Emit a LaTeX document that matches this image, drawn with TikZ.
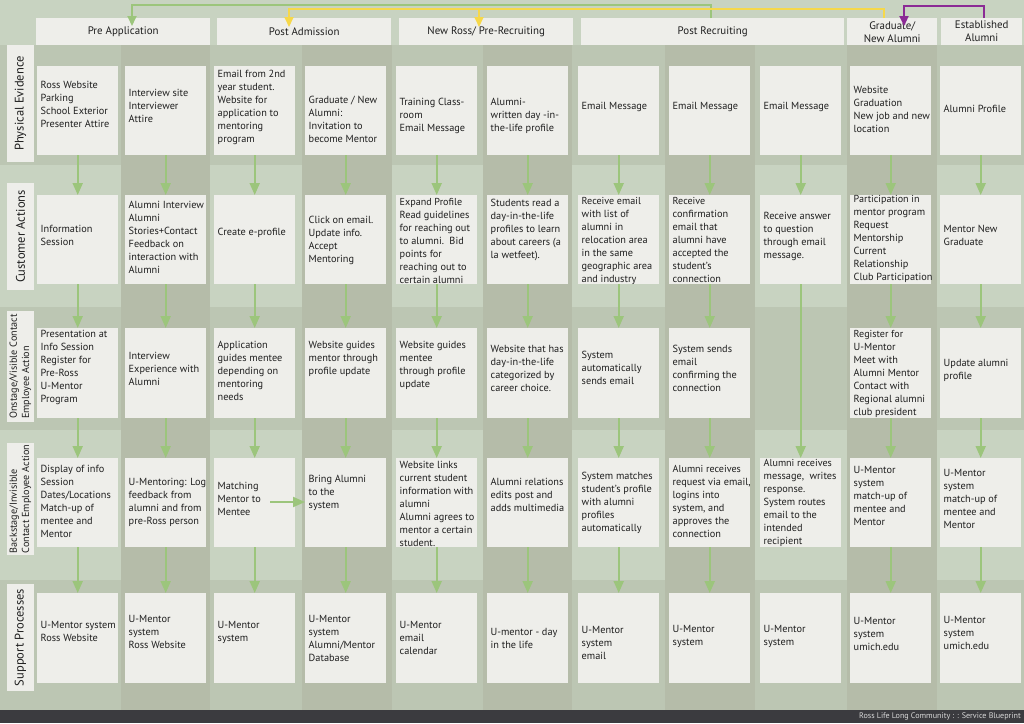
\documentclass[tikz,border=0pt]{standalone}
\usepackage{fontspec}
\setmainfont{PT Sans}
\usetikzlibrary{arrows.meta}
\definecolor{bgl}{HTML}{C8D3C1}
\definecolor{bgm}{HTML}{BCC6B3}
\definecolor{bgd}{HTML}{B5BCA9}
\definecolor{boxc}{HTML}{EEEEEA}
\definecolor{txt}{HTML}{1F1F1F}
\definecolor{agreen}{HTML}{9CC57C}
\definecolor{ayellow}{HTML}{F6D84A}
\definecolor{apurple}{HTML}{8B2A95}
\definecolor{foot}{HTML}{3B3B3F}
% #1 box height, #2 name, #3 left x, #4 top y, #5 text centre y, #6 text
\newcommand\bpcard[6][89]{%
  \node[cardbg, minimum height=#1pt] (#2) at (#3,#4) {};
  \node[cardtxt] (#2t) at (#3+3.5,#5) {#6};}
\newcommand\tightlines[1]{\fontsize{10.1}{#1}\selectfont}
\begin{document}
\begin{tikzpicture}[x=1pt,y=-1pt,
  cardbg/.style={anchor=north west, fill=boxc, minimum width=81pt, inner sep=0pt},
  cardtxt/.style={anchor=west, inner sep=0pt, align=left,
    font=\fontsize{10.3}{13}\selectfont, text=txt},
  hdr/.style={anchor=north west, fill=boxc, minimum height=27pt, inner sep=0pt,
    align=center, font=\fontsize{10.9}{13}\selectfont, text=txt},
  lab/.style={fill=boxc, rotate=90, minimum height=27pt, inner sep=0pt,
    font=\fontsize{12.5}{14}\selectfont, text=txt},
  labs/.style={fill=boxc, rotate=90, minimum height=27pt, inner sep=0pt, align=left,
    font=\fontsize{10.2}{12.3}\selectfont, text=txt},
  garrow/.style={draw=agreen, line width=2pt, -{Triangle[width=10pt,length=12pt]}},
  gconn/.style={draw=agreen, line width=2pt, -{Triangle[width=9pt,length=10pt]}},
  yconn/.style={draw=ayellow, line width=2pt, -{Triangle[width=9pt,length=10pt]}},
  pconn/.style={draw=apurple, line width=2.2pt, -{Triangle[width=9pt,length=10pt]}}
]
% ---------- background ----------
\fill[bgl] (0,0) rectangle (1024,723);
\fill[bgm] (0,45) rectangle (1024,165);
\fill[bgm] (0,307) rectangle (1024,430);
\fill[bgm] (0,580) rectangle (1024,710);
\foreach \a/\b in {121/210, 302/392, 483/572, 665/755, 847/937}
  \fill[bgd] (\a,45) rectangle (\b,710);
\fill[foot] (0,710) rectangle (1024,723);
\node[anchor=east, text=white!85!black, font=\fontsize{8.1}{9}\selectfont, inner sep=0pt]
  (foottxt) at (1021,716.8) {Ross Life Long Community : : Service Blueprint};
\useasboundingbox (0,0) rectangle (1024,723);

% ---------- headers ----------
\node[hdr, minimum width=174pt] (hPA) at (36,18) {Pre Application};
\node[hdr, minimum width=174pt] (hPD) at (217,18) {Post Admission};
\node[hdr, minimum width=174pt] (hNR) at (399,18) {New Ross/ Pre-Recruiting};
\node[hdr, minimum width=263pt] (hPR) at (581,18) {Post Recruiting};
\node[hdr, minimum width=90pt] (hGA) at (847,18) {Graduate/\\New Alumni};
\node[hdr, minimum width=81pt] (hEA) at (941,18) {Established\\Alumni};

% ---------- lane labels ----------
\node[lab, minimum width=117pt] (lPE) at (20.5,103.5) {Physical Evidence};
\node[lab, minimum width=107pt] (lCA) at (20.5,236.5) {Customer Actions};
\node[labs, minimum width=111pt] (lON) at (20.5,366.5) {Onstage/Visible Contact\\Employee Action};
\node[labs, minimum width=112pt] (lBS) at (20.5,499) {Backstage/Invisible\\Contact Employee Action};
\node[lab, minimum width=107pt] (lSP) at (20.5,637.5) {Support Processes};

% ---------- row 1: physical evidence ----------
\bpcard{r1c1}{37}{66}{104}{Ross Website\\Parking\\School Exterior\\Presenter Attire}
\bpcard{r1c2}{125}{66}{106}{Interview site\\Interviewer\\Attire}
\bpcard{r1c3}{214}{66}{107.5}{Email from 2nd\\year student.\\Website for\\application to\\mentoring\\program}
\bpcard{r1c4}{305}{66}{119}{Graduate / New\\Alumni:\\Invitation to\\become Mentor}
\bpcard{r1c5}{396}{66}{116}{Training Class-\\room\\Email Message}
\bpcard{r1c6}{487}{66}{116}{Alumni-\\written day -in-\\the-life profile}
\bpcard{r1c7}{578}{66}{107}{Email Message}
\bpcard{r1c8}{669}{66}{107}{Email Message}
\bpcard{r1c9}{760}{66}{107}{Email Message}
\bpcard{r1c10}{850}{66}{109.5}{Website\\Graduation\\New job and new\\location}
\bpcard{r1c11}{940}{66}{109}{Alumni Profile}

% ---------- row 2: customer actions ----------
\bpcard{r2c1}{37}{195}{235.5}{Information\\Session}
\bpcard{r2c2}{125}{195}{237}{Alumni Interview\\Alumni\\Stories+Contact\\Feedback on\\interaction with\\Alumni}
\bpcard{r2c3}{214}{195}{233}{Create e-profile}
\bpcard{r2c4}{305}{195}{240.5}{Click on email.\\Update info.\\Accept\\Mentoring}
\bpcard{r2c5}{396}{195}{240.5}{\tightlines{12.8}Expand Profile\\Read guidelines\\for reaching out\\to alumni.\ \ Bid\\points for\\reaching out to\\certain alumni}
\bpcard{r2c6}{487}{195}{230}{Students read a\\day-in-the-life\\profiles to learn\\about careers (a\\la wetfeet).}
\bpcard{r2c7}{578}{195}{241}{\tightlines{13}Receive email\\with list of\\alumni in\\relocation area\\in the same\\geographic area\\and industry}
\bpcard{r2c8}{669}{195}{239.5}{\tightlines{12.8}Receive\\confirmation\\email that\\alumni have\\accepted the\\student's\\connection}
\bpcard{r2c9}{760}{195}{236}{Receive answer\\to question\\through email\\message.}
\bpcard{r2c10}{850}{195}{239}{\tightlines{12.3}Participation in\\mentor program\\Request\\Mentorship\\Current\\Relationship\\Club Participation}
\bpcard{r2c11}{940}{195}{235}{Mentor New\\Graduate}

% ---------- row 3: onstage ----------
\bpcard[90]{r3c1}{37}{328}{367}{Presentation at\\Info Session\\Register for\\Pre-Ross\\U-Mentor\\Program}
\bpcard[90]{r3c2}{125}{328}{369}{Interview\\Experience with\\Alumni}
\bpcard[90]{r3c3}{214}{328}{371}{Application\\guides mentee\\depending on\\mentoring\\needs}
\bpcard[90]{r3c4}{305}{328}{359}{Website guides\\mentor through\\profile update}
\bpcard[90]{r3c5}{396}{328}{365.5}{Website guides\\mentee\\through profile\\update}
\bpcard[90]{r3c6}{487}{328}{368}{Website that has\\day-in-the-life\\categorized by\\career choice.}
\bpcard[90]{r3c7}{578}{328}{368}{System\\automatically\\sends email}
\bpcard[90]{r3c8}{669}{328}{368}{System sends\\email\\confirming the\\connection}
\bpcard[90]{r3c10}{850}{328}{373.5}{\tightlines{12.9}Register for\\U-Mentor\\Meet with\\Alumni Mentor\\Contact with\\Regional alumni\\club president}
\bpcard[90]{r3c11}{940}{328}{370}{Update alumni\\profile}

% ---------- row 4: backstage ----------
\bpcard{r4c1}{37}{458}{501}{Display of info\\Session\\Dates/Locations\\Match-up of\\mentee and\\Mentor}
\bpcard{r4c2}{125}{458}{502}{U-Mentoring: Log\\feedback from\\alumni and from\\pre-Ross person}
\bpcard{r4c3}{214}{458}{499}{Matching\\Mentor to\\Mentee}
\bpcard{r4c4}{305}{458}{493}{Bring Alumni\\to the\\system}
\bpcard{r4c5}{396}{458}{504}{Website links\\current student\\information with\\alumni\\Alumni agrees to\\mentor a certain\\student.}
\bpcard{r4c6}{487}{458}{495}{Alumni relations\\edits post and\\adds multimedia}
\bpcard{r4c7}{578}{458}{502.5}{System matches\\student's profile\\with alumni\\profiles\\automatically}
\bpcard{r4c8}{669}{458}{501}{\tightlines{13}Alumni receives\\request via email,\\logins into\\system, and\\approves the\\connection}
\bpcard{r4c9}{760}{458}{503}{\tightlines{12.8}Alumni receives\\message,\ \ writes\\response.\\System routes\\email to the\\intended\\recipient}
\bpcard{r4c10}{850}{458}{496}{U-Mentor\\system\\match-up of\\mentee and\\Mentor}
\bpcard{r4c11}{940}{458}{498.5}{U-Mentor\\system\\match-up of\\mentee and\\Mentor}

% ---------- row 5: support ----------
\bpcard[90]{r5c1}{37}{593}{631.5}{U-Mentor system\\Ross Website}
\bpcard[90]{r5c2}{125}{593}{632}{U-Mentor\\system\\Ross Website}
\bpcard[90]{r5c3}{214}{593}{632}{U-Mentor\\system}
\bpcard[90]{r5c4}{305}{593}{638.5}{U-Mentor\\system\\Alumni/Mentor\\Database}
\bpcard[90]{r5c5}{396}{593}{638}{U-Mentor\\email\\calendar}
\bpcard[90]{r5c6}{487}{593}{638}{U-mentor - day\\in the life}
\bpcard[90]{r5c7}{578}{593}{643}{U-Mentor\\system\\email}
\bpcard[90]{r5c8}{669}{593}{636}{U-Mentor\\system}
\bpcard[90]{r5c9}{760}{593}{636}{U-Mentor\\system}
\bpcard[90]{r5c10}{850}{593}{633.5}{U-Mentor\\system\\umich.edu}
\bpcard[90]{r5c11}{940}{593}{632.5}{U-Mentor\\system\\umich.edu}

% ---------- vertical flow arrows ----------
\foreach \i in {1,...,11}
  \draw[garrow] (r1c\i.south) -- (r2c\i.north);
\foreach \i in {1,...,8,10,11}{
  \draw[garrow] (r2c\i.south) -- (r3c\i.north);
  \draw[garrow] (r3c\i.south) -- (r4c\i.north);
  \draw[garrow] (r4c\i.south) -- (r5c\i.north);
}
\draw[garrow] (r2c9.south) -- (r4c9.north);

% horizontal arrow in backstage row
\coordinate (hA) at (270,502);
\draw[garrow] (hA) -- (r4c4.west |- hA);

% ---------- top connectors ----------
\coordinate (gA) at (711,18);
\coordinate (gB) at (132,5);
\coordinate (gT) at (132,26);
\draw[gconn] (gA) |- (gB) -- (gT);

\coordinate (yA) at (884,18);
\coordinate (yB) at (289,8.5);
\coordinate (yT) at (289,27);
\coordinate (yC) at (479,8.5);
\coordinate (yD) at (479,27);
\draw[yconn] (yA) |- (yB) -- (yT);
\draw[yconn] (yC) -- (yD);

\coordinate (pA) at (984,18);
\coordinate (pB) at (904,6);
\coordinate (pT) at (904,26);
\draw[pconn] (pA) |- (pB) -- (pT);
\end{tikzpicture}
\end{document}
